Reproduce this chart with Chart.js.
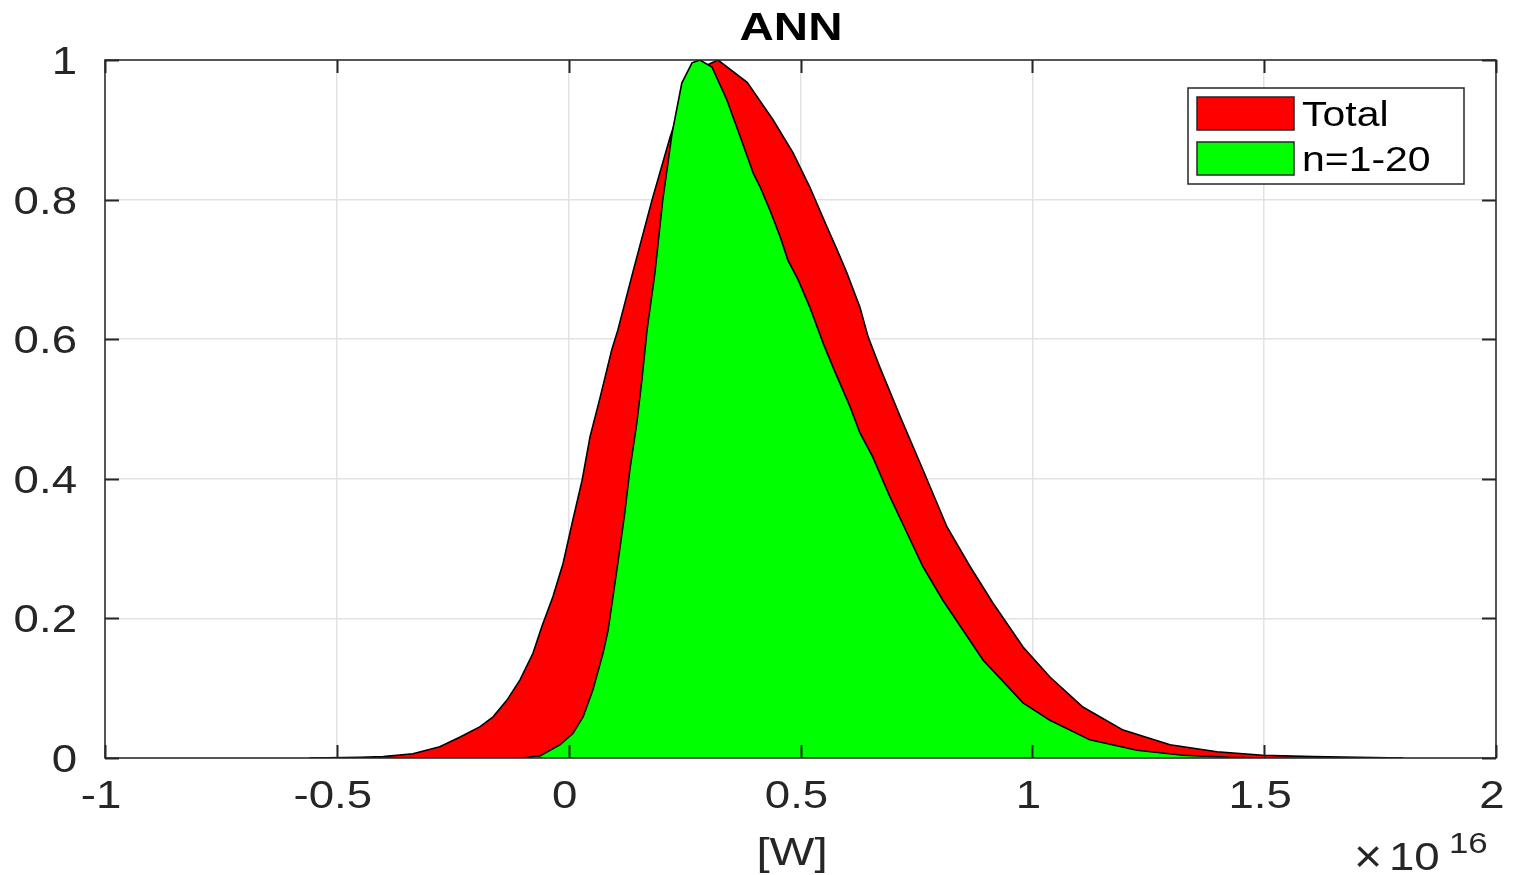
<!DOCTYPE html>
<html>
<head>
<meta charset="utf-8">
<script src="https://cdn.jsdelivr.net/npm/chart.js@4.4.1/dist/chart.umd.min.js"></script>
<style>
  html, body { margin: 0; padding: 0; background: #fff; }
  #wrap { width: 1516px; height: 875px; }
</style>
</head>
<body>
<div id="wrap"><canvas id="annChart" width="1516" height="875"></canvas></div>
<script>
// values (x in units of 1e16 W, y normalised)
const totalX = [-0.56, -0.45, -0.40, -0.336, -0.278, -0.234, -0.191, -0.163, -0.133, -0.105, -0.077, -0.058, -0.034, -0.012, 0.009, 0.029, 0.046, 0.068, 0.093, 0.106, 0.14, 0.18, 0.219, 0.25, 0.29, 0.322, 0.385, 0.441, 0.484, 0.520, 0.557, 0.579, 0.600, 0.628, 0.646, 0.671, 0.715, 0.764, 0.816, 0.866, 0.915, 0.980, 1.038, 1.109, 1.196, 1.297, 1.398, 1.497, 1.605, 1.80];
const totalY = [0.0, 0.001, 0.002, 0.006, 0.016, 0.030, 0.045, 0.059, 0.083, 0.112, 0.150, 0.188, 0.231, 0.279, 0.341, 0.398, 0.460, 0.517, 0.585, 0.613, 0.70, 0.80, 0.89, 0.95, 0.99, 1.0, 0.968, 0.914, 0.867, 0.818, 0.761, 0.728, 0.695, 0.646, 0.603, 0.560, 0.489, 0.413, 0.331, 0.274, 0.222, 0.159, 0.116, 0.073, 0.040, 0.019, 0.009, 0.004, 0.002, 0.0];

const lowX = [-0.10, -0.062, -0.019, 0.009, 0.031, 0.052, 0.074, 0.085, 0.106, 0.121, 0.132, 0.147, 0.158, 0.169, 0.186, 0.203, 0.223, 0.244, 0.266, 0.283, 0.309, 0.341, 0.370, 0.398, 0.413, 0.434, 0.456, 0.473, 0.495, 0.520, 0.549, 0.570, 0.607, 0.628, 0.656, 0.693, 0.730, 0.764, 0.807, 0.894, 0.980, 1.038, 1.124, 1.226, 1.325, 1.426, 1.50];
const lowY = [0.0, 0.003, 0.019, 0.035, 0.059, 0.097, 0.150, 0.183, 0.279, 0.351, 0.413, 0.480, 0.542, 0.613, 0.695, 0.80, 0.895, 0.967, 0.996, 1.0, 0.990, 0.943, 0.890, 0.838, 0.818, 0.785, 0.747, 0.713, 0.685, 0.646, 0.594, 0.560, 0.503, 0.466, 0.431, 0.374, 0.322, 0.274, 0.226, 0.140, 0.079, 0.054, 0.026, 0.011, 0.004, 0.001, 0.0];

const seriesNames = ['Total', 'n=1-20'];
const seriesColors = ['#ff0000', '#00ff00'];
const xTicks = [-1, -0.5, 0, 0.5, 1, 1.5, 2];
const yTicks = [0, 0.2, 0.4, 0.6, 0.8, 1];

const FONT = '"Liberation Sans", Arial, Helvetica, sans-serif';
const AXIS_COLOR = '#262626';
const STRETCH = 1.2; // the figure text is a bit wider than plain Helvetica

function toPoints(xs, ys) {
    return xs.map((x, i) => ({ x: x, y: ys[i] }));
}

// draw text stretched horizontally
function wideText(ctx, text, x, y, align, sx) {
    ctx.save();
    ctx.translate(x, y);
    ctx.scale(sx, 1);
    ctx.textAlign = align;
    ctx.fillText(text, 0, 0);
    ctx.restore();
}

// frame, inward ticks, tick labels, title, exponent and legend, matlab style
const matlabDecor = {
    id: 'matlabDecor',
    afterDraw(chart) {
        const ctx = chart.ctx;
        const a = chart.chartArea;
        const xs = chart.scales.x;
        const ys = chart.scales.y;
        ctx.save();

        ctx.strokeStyle = AXIS_COLOR;
        ctx.lineWidth = 1.5;
        ctx.strokeRect(a.left, a.top, a.right - a.left, a.bottom - a.top);

        ctx.lineWidth = 2;
        ctx.beginPath();
        xTicks.forEach(t => {
            const px = Math.round(xs.getPixelForValue(t)) + 0.5;
            ctx.moveTo(px, a.bottom); ctx.lineTo(px, a.bottom - 13);
            ctx.moveTo(px, a.top); ctx.lineTo(px, a.top + 13);
        });
        yTicks.forEach(t => {
            const py = Math.round(ys.getPixelForValue(t)) + 0.5;
            ctx.moveTo(a.left, py); ctx.lineTo(a.left + 14, py);
            ctx.moveTo(a.right, py); ctx.lineTo(a.right - 14, py);
        });
        ctx.stroke();

        // tick labels
        ctx.fillStyle = AXIS_COLOR;
        ctx.textBaseline = 'alphabetic';
        ctx.font = '38px ' + FONT;
        xTicks.forEach(t => {
            wideText(ctx, String(t), xs.getPixelForValue(t) - 4, 808, 'center', STRETCH);
        });
        yTicks.forEach(t => {
            wideText(ctx, String(t), 77, ys.getPixelForValue(t) + 14, 'right', STRETCH);
        });

        // title
        ctx.fillStyle = '#000';
        ctx.font = 'bold 38px ' + FONT;
        wideText(ctx, 'ANN', 791, 40, 'center', 1.25);

        // x label and exponent
        ctx.fillStyle = AXIS_COLOR;
        ctx.font = '38px ' + FONT;
        wideText(ctx, '[W]', 792, 865, 'center', 1.25);
        ctx.font = '46px ' + FONT;
        wideText(ctx, '\u00d7', 1354, 872, 'left', 1.05);
        ctx.font = '38px ' + FONT;
        wideText(ctx, '10', 1389, 870, 'left', STRETCH);
        ctx.font = '29px ' + FONT;
        wideText(ctx, '16', 1449, 853, 'left', STRETCH);

        // legend
        const lx = 1188, ly = 88, lw = 276, lh = 96;
        ctx.fillStyle = '#fff';
        ctx.fillRect(lx, ly, lw, lh);
        ctx.strokeStyle = AXIS_COLOR;
        ctx.lineWidth = 1.5;
        ctx.strokeRect(lx, ly, lw, lh);
        ctx.font = '35px ' + FONT;
        seriesNames.forEach((name, i) => {
            const sy = 97 + i * 45;
            ctx.fillStyle = seriesColors[i];
            ctx.fillRect(1197, sy, 97, 33);
            ctx.strokeStyle = AXIS_COLOR;
            ctx.lineWidth = 1.5;
            ctx.strokeRect(1197, sy, 97, 33);
            ctx.fillStyle = '#000';
            wideText(ctx, name, 1302, sy + 29, 'left', 1.17);
        });

        ctx.restore();
    }
};

const ctx = document.getElementById('annChart').getContext('2d');
const annChart = new Chart(ctx, {
    type: 'scatter',
    data: {
        datasets: [{
            label: seriesNames[0],
            data: toPoints(totalX, totalY),
            showLine: true,
            fill: 'origin',
            backgroundColor: seriesColors[0],
            borderColor: '#000',
            borderWidth: 1.6,
            pointRadius: 0,
            tension: 0,
            order: 2
        }, {
            label: seriesNames[1],
            data: toPoints(lowX, lowY),
            showLine: true,
            fill: 'origin',
            backgroundColor: seriesColors[1],
            borderColor: '#000',
            borderWidth: 1.6,
            pointRadius: 0,
            tension: 0,
            order: 1
        }]
    },
    options: {
        responsive: false,
        animation: false,
        devicePixelRatio: 1,
        layout: { padding: { top: 60, right: 20, left: 0, bottom: 0 } },
        plugins: {
            legend: { display: false },
            title: { display: false },
            tooltip: { enabled: false }
        },
        scales: {
            x: {
                type: 'linear',
                min: -1,
                max: 2,
                afterFit: s => { s.height = 117; },
                afterBuildTicks: s => { s.ticks = xTicks.map(v => ({ value: v })); },
                grid: { color: '#e2e2e2', lineWidth: 1.5, drawTicks: false },
                border: { display: false },
                ticks: { display: false }
            },
            y: {
                min: 0,
                max: 1,
                afterFit: s => { s.width = 105; },
                afterBuildTicks: s => { s.ticks = yTicks.map(v => ({ value: v })); },
                grid: { color: '#e2e2e2', lineWidth: 1.5, drawTicks: false },
                border: { display: false },
                ticks: { display: false }
            }
        }
    },
    plugins: [matlabDecor]
});
</script>
</body>
</html>
